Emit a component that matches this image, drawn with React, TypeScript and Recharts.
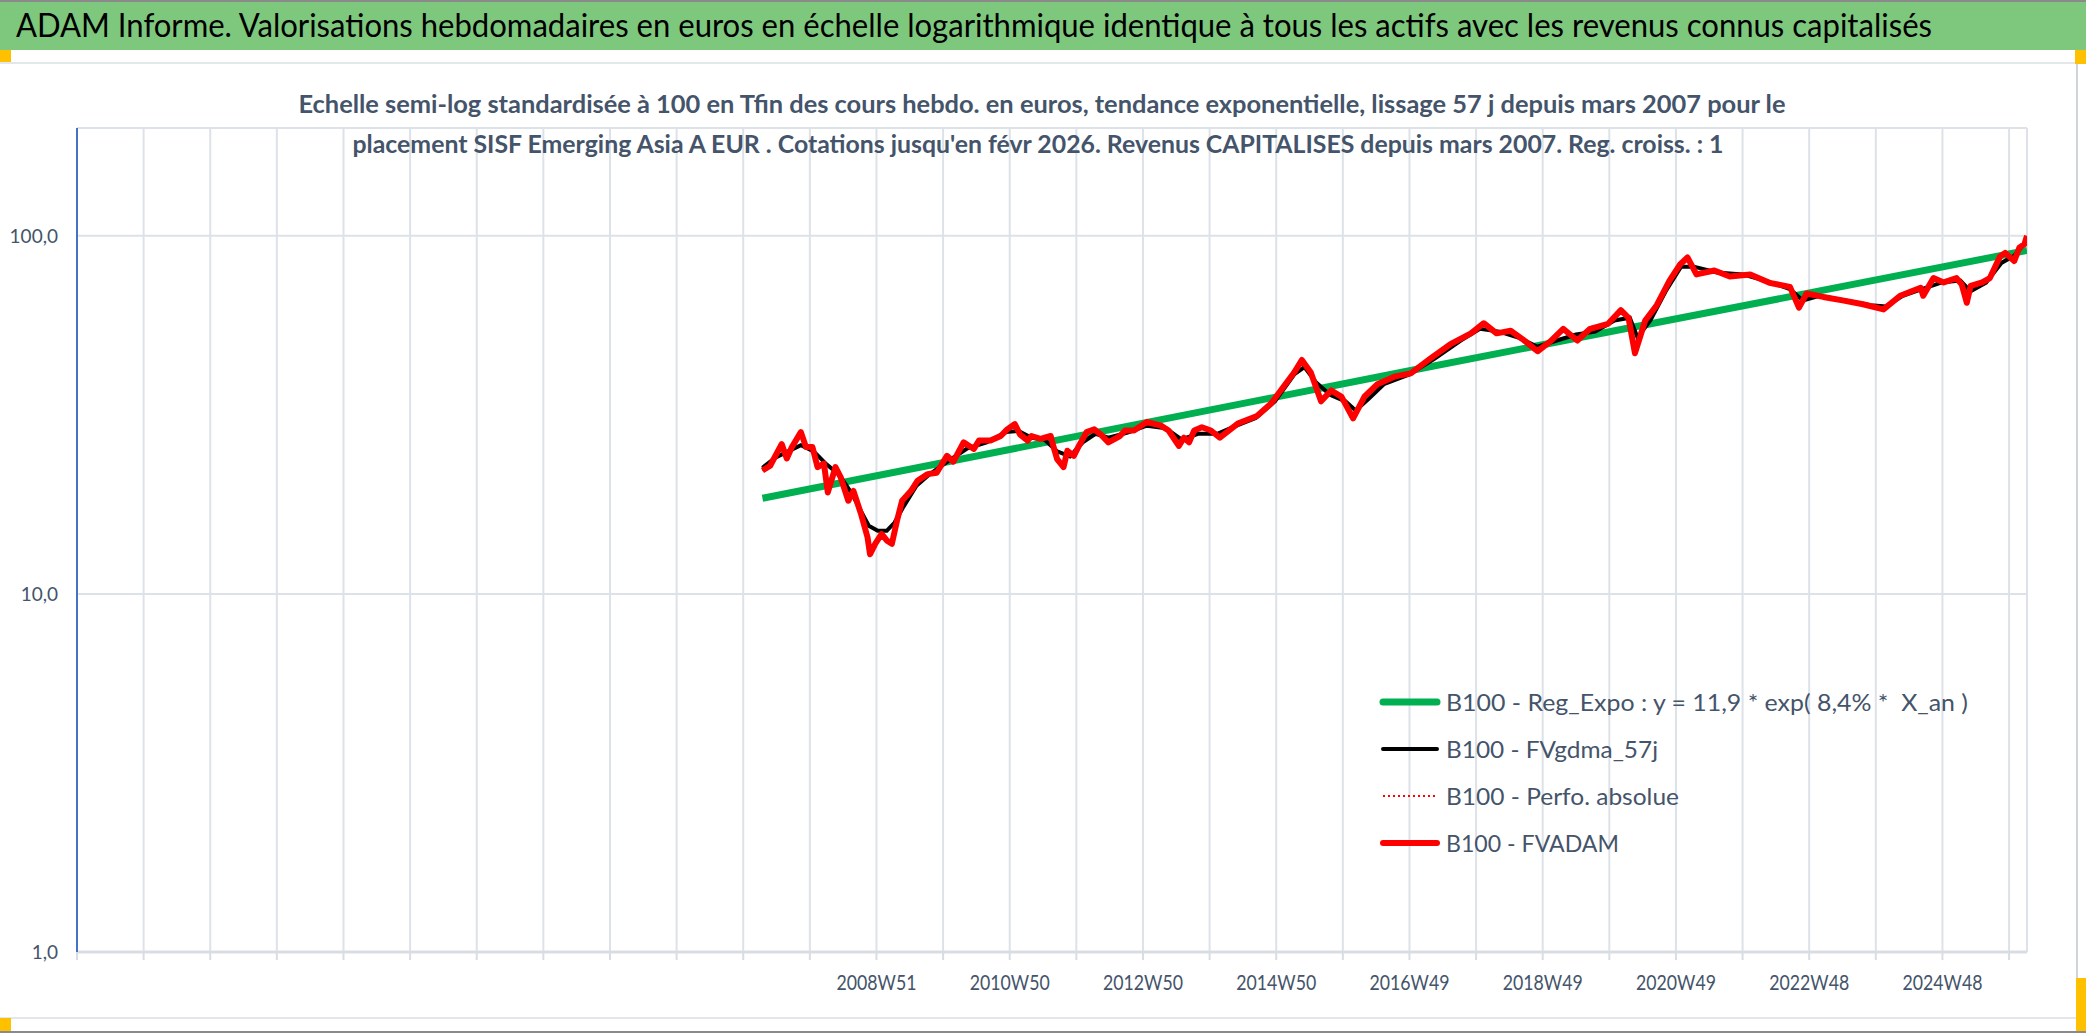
import React from 'react';
import {CartesianGrid, Legend, Line, LineChart, XAxis, YAxis} from 'recharts';

const FONT = "Lato, 'Open Sans', sans-serif";
const SLATE = '#44546A';

// weekly category axis: index 0 = first (empty) week, labels every 104 weeks
const weekLabels = ['2008W51', '2010W50', '2012W50', '2014W50', '2016W49', '2018W49', '2020W49', '2022W48', '2024W48'];
const firstLabelWeek = 624;
const labelStep = 104;
const lastWeek = 1522;
const gridWeeks = Array.from({length: 30}, (_, k) => k * 52);
const yTicks = [1, 10, 100];

// B100 - Reg_Expo
const regWeeks = [535, 1040, 1522];
const regValues = [18.5, 42, 91];

// B100 - FVADAM (and Perfo. absolue, same curve)
const redWeeks = [
    535, 541, 550, 554, 558, 565, 569, 574, 578, 583, 586, 592, 596, 602, 606, 612, 617, 619, 623, 628,
    632, 636, 640, 644, 651, 656, 664, 671, 679, 684, 692, 700, 704, 713, 721, 726, 732, 736, 742, 745,
    752, 760, 762, 765, 770, 773, 778, 782, 788, 794, 799, 805, 814, 818, 825, 835, 846, 852, 860, 864,
    868, 872, 878, 885, 892, 906, 921, 932, 942, 950, 956, 963, 971, 979, 987, 996, 1005, 1015, 1029, 1041,
    1057, 1072, 1088, 1098, 1108, 1119, 1129, 1140, 1150, 1160, 1171, 1181, 1195, 1205, 1211, 1216, 1224, 1233, 1243, 1251,
    1257, 1264, 1278, 1290, 1306, 1321, 1337, 1344, 1350, 1363, 1378, 1394, 1410, 1423, 1439, 1441, 1449, 1457, 1467, 1471,
    1475, 1478, 1487, 1493, 1501, 1505, 1512, 1516, 1520, 1522];
const redValues = [
    22.1, 22.8, 26.2, 23.9, 25.7, 28.3, 25.7, 25.7, 22.6, 23.1, 19.2, 22.6, 21.2, 18.2, 19.4, 16.7, 14.4, 12.9, 13.8, 14.7,
    14.1, 13.8, 16.0, 18.2, 19.4, 20.7, 21.6, 21.8, 24.3, 23.4, 26.5, 25.4, 26.8, 26.8, 27.6, 28.8, 29.8, 27.9, 26.8, 27.6,
    27.1, 27.6, 25.9, 23.8, 22.6, 25.1, 24.3, 25.9, 28.3, 28.8, 27.9, 26.5, 27.6, 28.6, 28.6, 30.2, 29.5, 28.6, 25.9, 27.3,
    26.5, 28.6, 29.2, 28.6, 27.3, 29.9, 31.4, 34, 38, 41.5, 45, 41.5, 34.5, 37, 35.5, 30.9, 35.6, 38.5, 40.5, 41.3,
    45.6, 49.8, 53.4, 57, 53.4, 54.3, 51.2, 47.6, 50.7, 55, 51, 55, 56.8, 62, 59, 47, 58, 64, 75, 83,
    87, 78, 80, 77, 78, 73.9, 72, 63, 69, 67.5, 66, 64.4, 62.3, 68, 71.6, 68, 76.2, 74.1, 76.2, 73.2,
    65, 72.5, 74.1, 76.2, 87.6, 89.6, 85, 92.6, 94.8, 100];

// B100 - FVgdma_57j (smoothed)
const blackWeeks = [
    535, 545, 555, 565, 575, 585, 595, 605, 612, 618, 625, 632, 638, 645, 655, 665, 680, 695, 710, 725,
    735, 745, 755, 765, 775, 785, 795, 805, 820, 835, 850, 862, 875, 890, 905, 920, 935, 950, 958, 967,
    978, 990, 998, 1008, 1020, 1040, 1060, 1080, 1095, 1110, 1125, 1140, 1155, 1170, 1185, 1200, 1212, 1218, 1228, 1240,
    1252, 1262, 1280, 1300, 1320, 1337, 1347, 1360, 1380, 1400, 1412, 1425, 1440, 1455, 1470, 1478, 1490, 1502, 1512, 1522];
const blackValues = [
    22.5, 24, 25, 26, 25, 23, 21.5, 19, 17, 15.5, 15, 15, 15.8, 17.5, 20, 21.5, 23.5, 25.5, 26.5, 28.3,
    28.5, 27.3, 27, 25, 24.2, 26.5, 28, 27.3, 28.2, 29.5, 29, 27, 28, 28, 29.5, 31, 34.5, 41, 43, 39,
    36, 34.5, 32.5, 35, 38.5, 41, 45.5, 51, 55, 54, 52, 49, 51, 53, 54, 58, 59, 52, 58, 70,
    82, 82, 79, 78, 74.5, 71, 66, 68, 66, 64, 63.5, 68, 71, 74, 75, 70, 74, 84, 88, 97];

const regData = regWeeks.map((w, k) => ({week: w, v: regValues[k]}));
const redData = redWeeks.map((w, k) => ({week: w, v: redValues[k]}));
const blackData = blackWeeks.map((w, k) => ({week: w, v: blackValues[k]}));

const legendItems = [
    {label: 'B100 - Reg_Expo : y = 11,9 * exp( 8,4% *  X_an )', color: '#00B050', w: 7, dash: '', len: 522},
    {label: 'B100 - FVgdma_57j', color: '#000000', w: 4, dash: '', len: 212},
    {label: 'B100 - Perfo. absolue', color: '#FF0000', w: 2, dash: '2 3', len: 233},
    {label: 'B100 - FVADAM', color: '#FF0000', w: 6, dash: '', len: 173},
];

const ChartLegend = () => (
    <svg width={640} height={190}>
        {legendItems.map((it, k) => {
            const cy = 22 + k * 47;
            return (
                <g key={k}>
                    <line x1={4} x2={58} y1={cy} y2={cy} stroke={it.color} strokeWidth={it.w}
                          strokeDasharray={it.dash || undefined} strokeLinecap={it.dash ? 'butt' : 'round'}/>
                    <text x={67} y={cy + 8.5} fontSize={24} fontFamily={FONT} fill={SLATE}
                          textLength={it.len} lengthAdjust="spacingAndGlyphs" style={{whiteSpace: 'pre'}}>
                        {it.label}
                    </text>
                </g>
            );
        })}
    </svg>
);

const WeekTick = (props: any) => {
    const {x, y, payload} = props;
    const k = (payload.value - firstLabelWeek) / labelStep;
    if (k < 0 || !Number.isInteger(k) || k >= weekLabels.length) return <g/>;
    return (
        <text x={x} y={y + 28} textAnchor="middle" fontSize={21} fontFamily={FONT} fill={SLATE}
              textLength={80} lengthAdjust="spacingAndGlyphs">
            {weekLabels[k]}
        </text>
    );
};

const box = (left: number, top: number, width: number, height: number, background: string) => (
    <div style={{position: 'absolute', left, top, width, height, background}}/>
);

export default function App() {
    return (
        <div style={{position: 'absolute', left: 0, top: 0, width: 2086, height: 1033, background: '#fff', overflow: 'hidden'}}>
            {box(0, 0, 2086, 2, '#8a8a8a')}
            {box(0, 2, 2086, 48, '#7EC87E')}
            {box(0, 62, 2077, 2, '#E3E6EA')}
            {box(0, 1017, 2077, 2, '#E3E6EA')}
            {box(2076, 62, 2, 956, '#D0D4DA')}
            {box(0, 1031, 2086, 2, '#8a8a8a')}
            {box(0, 50, 11, 12, '#FFC000')}
            {box(2075, 50, 11, 14, '#FFC000')}
            {box(0, 1018, 11, 13, '#FFC000')}
            {box(2076, 978, 10, 53, '#FFC000')}

            <div style={{position: 'absolute', left: 0, top: 0}}>
                <LineChart width={2086} height={1033} margin={{top: 128, right: 59, bottom: 41, left: 17}}>
                    <CartesianGrid stroke="#DDE2E9" strokeWidth={2}/>
                    <XAxis dataKey="week" type="number" domain={[0, lastWeek]} allowDataOverflow ticks={gridWeeks}
                           interval={0} height={40} tickSize={8} tickMargin={2} tick={<WeekTick/>}
                           axisLine={{stroke: '#D9DDE3', strokeWidth: 3}} tickLine={{stroke: '#D9DDE3', strokeWidth: 2}}/>
                    <YAxis type="number" scale="log" domain={[1, 200]} allowDataOverflow ticks={yTicks} width={60}
                           tickSize={0} tickMargin={19} tickLine={false}
                           axisLine={{stroke: '#4472C4', strokeWidth: 2}}
                           tickFormatter={(v: number) => v.toFixed(1).replace('.', ',')}
                           tick={{fill: SLATE, fontSize: 19, fontFamily: FONT}}/>
                    <Line data={regData} dataKey="v" type="linear" stroke="#00B050" strokeWidth={7} dot={false}
                          isAnimationActive={false} name="B100 - Reg_Expo"/>
                    <Line data={blackData} dataKey="v" type="linear" stroke="#000000" strokeWidth={4} dot={false}
                          isAnimationActive={false} name="B100 - FVgdma_57j"/>
                    <Line data={redData} dataKey="v" type="linear" stroke="#FF0000" strokeWidth={2} strokeDasharray="2 3"
                          dot={false} isAnimationActive={false} name="B100 - Perfo. absolue"/>
                    <Line data={redData} dataKey="v" type="linear" stroke="#FF0000" strokeWidth={6} dot={false}
                          strokeLinejoin="round" isAnimationActive={false} name="B100 - FVADAM"/>
                    <Legend content={<ChartLegend/>} layout="horizontal" verticalAlign="middle" align="center"
                            wrapperStyle={{position: 'absolute', left: 1379, top: 680, width: 640, height: 190}}/>
                </LineChart>
            </div>

            <svg width={2086} height={170} style={{position: 'absolute', left: 0, top: 0, pointerEvents: 'none'}}>
                <text x={16} y={37} fontSize={33} fontFamily={FONT} fill="#000" textLength={1916}
                      lengthAdjust="spacingAndGlyphs">
                    ADAM Informe. Valorisations hebdomadaires en euros en échelle logarithmique identique à tous les actifs avec les revenus connus capitalisés
                </text>
                <text x={1042} y={113} textAnchor="middle" fontSize={25} fontWeight="bold" fontFamily={FONT} fill={SLATE}
                      textLength={1487} lengthAdjust="spacingAndGlyphs">
                    Echelle semi-log standardisée à 100 en Tfin des cours hebdo. en euros, tendance exponentielle, lissage 57 j depuis mars 2007 pour le
                </text>
                <text x={1038} y={153} textAnchor="middle" fontSize={25} fontWeight="bold" fontFamily={FONT} fill={SLATE}
                      textLength={1371} lengthAdjust="spacingAndGlyphs">
                    placement SISF Emerging Asia A EUR . Cotations jusqu'en févr 2026. Revenus CAPITALISES depuis mars 2007. Reg. croiss. : 1
                </text>
            </svg>
        </div>
    );
}
